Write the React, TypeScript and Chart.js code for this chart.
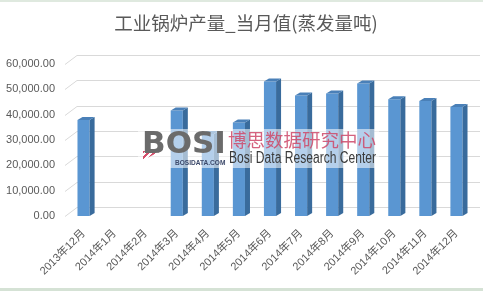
import React, { useEffect, useRef } from "react";
import { Chart, registerables } from "chart.js";

Chart.register(...registerables);

const titleText = "工业锅炉产量_当月值(蒸发量吨)";
const categories = [
  "2013年12月", "2014年1月", "2014年2月", "2014年3月", "2014年4月", "2014年5月",
  "2014年6月", "2014年7月", "2014年8月", "2014年9月", "2014年10月", "2014年11月", "2014年12月",
];
const production: (number | null)[] = [
  37900, null, null, 41600, 32400, 36900, 53100, 47600, 48400, 52300, 46100, 45400, 43000,
];
const yMin = 0;
const yMax = 60000;
const yStep = 10000;

const LABEL_FONT = "'Liberation Sans', 'Noto Sans CJK SC', sans-serif";
const CJK_FONT = "'Noto Sans CJK SC', 'Liberation Sans', sans-serif";

const depthGrid = {
  id: "depthGrid",
  beforeDatasetsDraw(chart: any) {
    const { ctx, chartArea, scales } = chart;
    const ys = scales.y;
    ctx.save();
    ctx.strokeStyle = "#d9d9d9";
    ctx.lineWidth = 1;
    ys.ticks.forEach((t: any) => {
      const py = Math.round(ys.getPixelForValue(t.value)) + 0.5;
      ctx.beginPath();
      ctx.moveTo(chartArea.left - 3, py);
      ctx.lineTo(chartArea.left + 9, py - 9);
      ctx.lineTo(chartArea.right + 8, py - 9);
      ctx.stroke();
    });
    ctx.restore();
  },
};

const bar3d = {
  id: "bar3d",
  afterDatasetsDraw(chart: any) {
    const { ctx } = chart;
    const meta = chart.getDatasetMeta(0);
    const dx = 5;
    const dy = 3;
    ctx.save();
    meta.data.forEach((el: any) => {
      if (el.skip) return;
      const { x, y, base, width } = el.getProps(["x", "y", "base", "width"], true);
      if (!isFinite(y) || !isFinite(base) || Math.abs(base - y) < 0.5) return;
      const l = x - width / 2;
      const r = x + width / 2;
      ctx.fillStyle = "#396b9c";
      ctx.beginPath();
      ctx.moveTo(r, y);
      ctx.lineTo(r + dx, y - dy);
      ctx.lineTo(r + dx, base - dy);
      ctx.lineTo(r, base);
      ctx.closePath();
      ctx.fill();
      ctx.fillStyle = "#4a80b8";
      ctx.beginPath();
      ctx.moveTo(l, y);
      ctx.lineTo(l + dx, y - dy);
      ctx.lineTo(r + dx, y - dy);
      ctx.lineTo(r, y);
      ctx.closePath();
      ctx.fill();
    });
    ctx.restore();
  },
};

function fmt(v: number) {
  return v.toLocaleString("en-US", { minimumFractionDigits: 2, maximumFractionDigits: 2 });
}

export default function App() {
  const canvasRef = useRef<HTMLCanvasElement | null>(null);

  useEffect(() => {
    const canvas = canvasRef.current;
    if (!canvas) return;
    const chart = new Chart(canvas, {
      type: "bar",
      data: {
        labels: categories,
        datasets: [
          {
            data: production,
            backgroundColor: "#5a96d2",
            borderWidth: 0,
            barPercentage: 0.39,
            categoryPercentage: 1,
          },
        ],
      },
      options: {
        responsive: false,
        animation: false,
        devicePixelRatio: 1,
        layout: { padding: { left: 0, right: 11, top: 64, bottom: 0 } },
        plugins: {
          legend: { display: false },
          tooltip: { enabled: false },
          title: { display: false },
        },
        scales: {
          x: {
            grid: { display: false, drawTicks: false },
            border: { display: false },
            ticks: {
              color: "#595959",
              font: { size: 11, family: LABEL_FONT },
              maxRotation: 45,
              minRotation: 45,
              autoSkip: false,
              padding: 11,
            },
            afterFit: (scale: any) => {
              scale.height = 75;
            },
          },
          y: {
            min: yMin,
            max: yMax,
            grid: { display: false, drawTicks: false },
            border: { display: false },
            ticks: {
              stepSize: yStep,
              color: "#595959",
              font: { size: 11, family: LABEL_FONT },
              padding: 13,
              callback: (v: any) => fmt(Number(v)),
            },
            afterFit: (scale: any) => {
              scale.width = 68;
            },
          },
        },
      },
      plugins: [depthGrid, bar3d],
    });
    return () => chart.destroy();
  }, []);

  return (
    <div style={{ position: "fixed", left: 0, top: 0, width: 483, height: 291, background: "#ffffff", overflow: "hidden" }}>
      <canvas ref={canvasRef} width={483} height={291} style={{ position: "absolute", left: 0, top: 0 }} />
      <div style={{ position: "absolute", left: 0, top: 0, width: 483, height: 2, background: "#dfe9df" }} />
      <div style={{ position: "absolute", left: 0, top: 288, width: 483, height: 3, background: "#d5e2d5" }} />
      <div
        style={{
          position: "absolute", left: 0, top: 10, width: 492, textAlign: "center", fontFamily: CJK_FONT,
          fontSize: 18.5, lineHeight: "24px", color: "#595959", whiteSpace: "nowrap",
        }}
      >
        {titleText}
      </div>
      {/* watermark */}
      <div style={{ position: "absolute", left: 138, top: 129, width: 241, height: 39, background: "rgba(255,255,255,0.55)" }} />
      <div
        style={{
          position: "absolute", left: 143, top: 151, width: 18, height: 9,
          background: "repeating-linear-gradient(135deg, #d4506c 0px, #d4506c 2px, rgba(255,255,255,0.9) 2px, rgba(255,255,255,0.9) 4px)",
          clipPath: "polygon(0 0, 100% 0, 0 100%)",
        }}
      />
      <div
        style={{
          position: "absolute", left: 142, top: 124, fontFamily: "'DejaVu Sans', sans-serif", fontWeight: "bold",
          fontSize: 31, lineHeight: "36px", color: "#6b6b6b", whiteSpace: "nowrap",
        }}
      >
        BOSI
      </div>
      <div
        style={{
          position: "absolute", left: 175, top: 158, fontFamily: "'Liberation Sans', sans-serif",
          fontWeight: "bold", fontSize: 8, lineHeight: "9px", color: "#3d4a6b", whiteSpace: "nowrap",
          transform: "scaleX(0.82)", transformOrigin: "left top",
        }}
      >
        BOSIDATA.COM
      </div>
      <div
        style={{
          position: "absolute", left: 228, top: 128, fontFamily: CJK_FONT, fontSize: 18.5, lineHeight: "22px",
          color: "rgba(206,72,104,0.85)", whiteSpace: "nowrap",
        }}
      >
        博思数据研究中心
      </div>
      <div
        style={{
          position: "absolute", left: 229, top: 148, fontFamily: "'Liberation Sans', sans-serif",
          fontSize: 16, lineHeight: "20px", color: "#3a3a3a", whiteSpace: "nowrap",
          transform: "scaleX(0.755)", transformOrigin: "left top",
        }}
      >
        Bosi Data Research Center
      </div>
    </div>
  );
}
